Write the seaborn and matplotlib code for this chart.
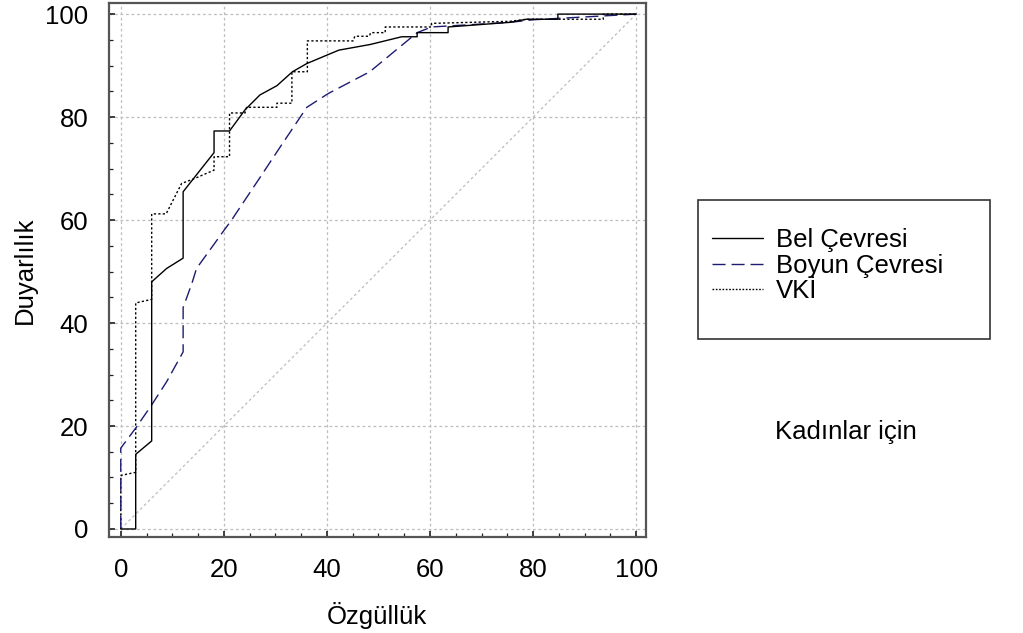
import matplotlib
matplotlib.use("Agg")
import matplotlib.pyplot as plt
from matplotlib.lines import Line2D
from matplotlib.patches import Rectangle
from matplotlib.ticker import MultipleLocator
import seaborn as sns

# ROC curves
bel_x = [0, 2.9, 2.9, 6.0, 6.0, 8.9, 12.1, 12.1, 18.1, 18.1, 21.1, 24.1, 27.0, 30.3,
         33.3, 36.1, 42.3, 48.4, 54.5, 57.5, 57.5, 63.5, 63.5, 75.5, 78.7, 84.8, 84.8, 100]
bel_y = [0, 0, 14.5, 17.1, 48.0, 50.6, 52.6, 65.5, 73.1, 77.3, 77.3, 81.4, 84.3, 86.1,
         88.8, 90.4, 93.0, 94.1, 95.6, 95.6, 96.4, 96.4, 97.5, 98.4, 99.0, 99.0, 100, 100]

boyun_x = [0, 0, 2.9, 6.0, 8.9, 12.1, 12.1, 13.8, 14.7, 17.3, 20.1, 21.5, 26.7, 31.2,
           36.1, 40.3, 48.3, 57.5, 60.3, 75.5, 80.0, 100]
boyun_y = [0, 15.7, 19.6, 24.1, 28.6, 34.4, 43.0, 47.7, 50.6, 54.2, 58.1, 60.0, 67.8, 74.6,
           81.9, 84.6, 88.8, 96.4, 97.5, 98.4, 98.9, 100]

vki_x = [0, 0, 2.9, 2.9, 6.0, 6.0, 8.8, 11.8, 14.4, 18.1, 18.1, 21.1, 21.1, 24.1, 24.4,
         30.3, 30.3, 33.2, 33.2, 36.2, 36.2, 45.1, 45.4, 48.2, 48.5, 51.3, 51.3, 60.3, 60.3,
         75.5, 78.7, 93.6, 93.6, 100]
vki_y = [0, 10.4, 11.0, 43.9, 44.6, 61.2, 61.2, 67.1, 68.1, 69.7, 72.3, 72.3, 80.8, 80.8, 81.9,
         81.9, 82.7, 82.7, 88.8, 88.8, 94.8, 94.8, 95.7, 95.7, 96.4, 96.4, 97.5, 97.5, 98.2,
         98.6, 99.0, 99.0, 100, 100]

ref_x = [0, 100]
ref_y = [0, 100]

labels = ["Bel Çevresi", "Boyun Çevresi", "VKİ"]
ticks = [0, 20, 40, 60, 80, 100]

sns.set_theme(style="white")
plt.rcParams["font.family"] = ["Liberation Sans", "DejaVu Sans"]
plt.rcParams["text.color"] = "black"
plt.rcParams["axes.labelcolor"] = "black"
plt.rcParams["xtick.color"] = "black"
plt.rcParams["ytick.color"] = "black"
fs = 18.5

fig = plt.figure(figsize=(10.23, 6.33), dpi=100)
ax = fig.add_axes([0.1066, 0.1509, 0.5244, 0.8439])

grid_kw = dict(color="#bdbdbd", lw=0.9, linestyle=(0, (2.2, 2.2)))
ax.set_xticks(ticks)
ax.set_yticks(ticks)
ax.grid(True, **grid_kw)
ax.set_axisbelow(True)

sns.lineplot(x=ref_x, y=ref_y, ax=ax, color="#bdbdbd", lw=0.9,
             linestyle=(0, (2.2, 2.2)), sort=False, estimator=None)
sns.lineplot(x=vki_x, y=vki_y, ax=ax, color="black", lw=1.0,
             linestyle=(0, (1.6, 1.6)), sort=False, estimator=None)
sns.lineplot(x=boyun_x, y=boyun_y, ax=ax, color="#1c1c70", lw=1.0,
             linestyle=(0, (9.4, 4.3)), sort=False, estimator=None)
sns.lineplot(x=bel_x, y=bel_y, ax=ax, color="black", lw=1.0,
             sort=False, estimator=None)

ax.set_xlim(-2.27, 101.8)
ax.set_ylim(-1.65, 102.1)
ax.xaxis.set_minor_locator(MultipleLocator(5))
ax.yaxis.set_minor_locator(MultipleLocator(5))
ax.tick_params(which="major", direction="in", length=4.5, width=1.2, color="#202020",
               labelsize=fs, labelcolor="black", pad=15, bottom=True, left=True)
ax.tick_params(which="minor", direction="in", length=2.6, width=0.9, color="#202020",
               bottom=True, left=True)
for sp in ax.spines.values():
    sp.set_color("#555555")
    sp.set_linewidth(1.6)

ax.set_xlabel("Özgüllük", fontsize=fs, labelpad=14, color="black")
ax.set_ylabel("Duyarlılık", fontsize=fs, labelpad=6, color="black")

# legend box
fig.patches.append(Rectangle((698 / 1023, 1 - 339 / 633), 292 / 1023, 139 / 633,
                             transform=fig.transFigure, fill=False,
                             edgecolor="#333333", lw=1.2))
handles = [
    Line2D([], [], color="black", lw=1.0),
    Line2D([], [], color="#1c1c70", lw=1.0, linestyle=(0, (9.4, 4.3))),
    Line2D([], [], color="black", lw=1.0, linestyle=(0, (1.2, 1.2))),
]
leg = fig.legend(handles, labels, loc="upper left", bbox_to_anchor=(712 / 1023, 1 - 228 / 633),
                 frameon=False, fontsize=fs, borderpad=0, borderaxespad=0,
                 handlelength=2.0, handletextpad=0.5, labelspacing=0.06)
for t in leg.get_texts():
    t.set_color("black")

fig.text(775 / 1023, 1 - 432 / 633, "Kadınlar için", fontsize=fs, va="center", ha="left",
         color="black")

fig.savefig("out.png", dpi=100)
